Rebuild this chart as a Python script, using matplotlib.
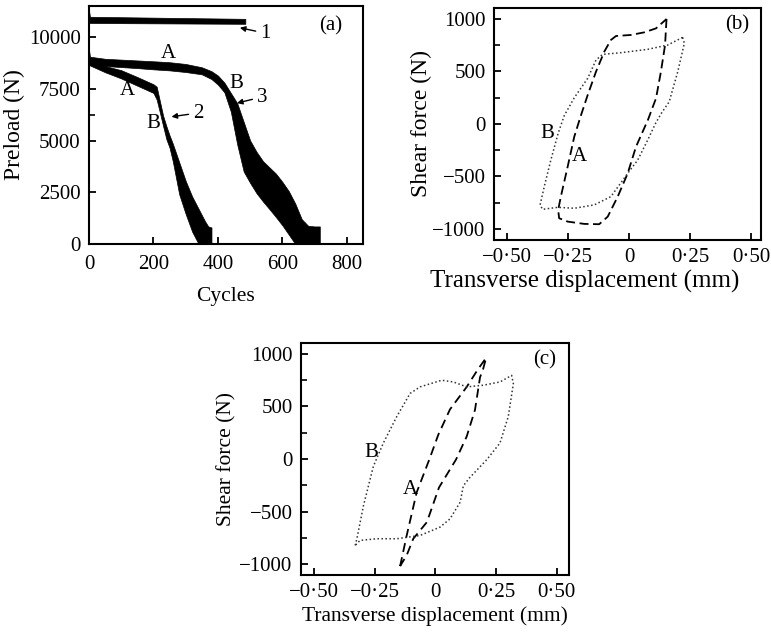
import numpy as np
import matplotlib
matplotlib.use("Agg")
import matplotlib.pyplot as plt

plt.rcParams['font.family'] = ['Liberation Serif', 'DejaVu Serif']

# ---- panel (a): preload decay bands (upper / lower envelope of each band)
c1_x = [0, 3, 240, 485]
c1_hi = [11300, 10980, 10930, 10880]
c1_lo = [10680, 10680, 10660, 10640]

c2_x = [0, 50, 100, 150, 200, 210, 220, 230, 240, 250, 260, 280, 300, 320, 340, 360, 370, 380]
c2_hi = [8800, 8600, 8400, 8070, 7720, 7600, 6900, 6200, 5700, 5250, 4850, 3950, 3050, 2300, 1700, 1100, 850, 800]
c2_lo = [8650, 8300, 8000, 7650, 7300, 6980, 6350, 5700, 5070, 4650, 4000, 2400, 1450, 600, 0, 0, 0, 0]

c3_x = [0, 3, 50, 100, 150, 200, 250, 300, 350, 380, 400, 420, 440, 460, 480, 500, 520,
        540, 560, 580, 600, 620, 640, 660, 680, 700, 716]
c3_hi = [9400, 9050, 8950, 8910, 8870, 8830, 8785, 8700, 8540, 8350, 8140, 7800, 7300, 6800, 5900,
         5000, 4450, 4000, 3700, 3400, 3000, 2550, 1950, 1200, 880, 850, 850]
c3_lo = [8650, 8650, 8600, 8550, 8500, 8440, 8390, 8310, 8200, 7970, 7700, 7330, 6400, 4800, 3500,
         2950, 2450, 2050, 1680, 1300, 900, 450, 0, 0, 0, 0, 0]

# ---- panel (b): hysteresis loops
b_A_x = [0.154, 0.148, 0.131, 0.111, 0.078, 0.029, -0.005, -0.046, -0.087, -0.122, -0.183, -0.251,
         -0.286, -0.290, -0.279, -0.251, -0.224, -0.197, -0.169, -0.135, -0.101, -0.074, -0.053,
         0.008, 0.063, 0.111, 0.154]
b_A_y = [1000, 752, 498, 245, 40, -216, -470, -692, -883, -955, -952, -930, -898, -819, -692, -406,
         -121, 80, 276, 498, 689, 800, 838, 848, 873, 911, 1000]

b_B_x = [0.220, 0.227, 0.200, 0.165, 0.135, 0.110, 0.077, 0.036, -0.005, -0.074, -0.142, -0.224,
         -0.292, -0.354, -0.364, -0.347, -0.320, -0.290, -0.265, -0.224, -0.169, -0.135, -0.108,
         -0.033, 0.077, 0.159, 0.220]
b_B_y = [825, 768, 498, 212, 110, 10, -152, -343, -470, -692, -771, -803, -794, -813, -771, -597,
         -343, -89, 80, 250, 435, 609, 663, 679, 711, 752, 825]

# ---- panel (c): hysteresis loops
c_A_x = [-0.145, -0.118, -0.077, -0.025, 0.012, 0.060, 0.129, 0.175, 0.209, 0.195, 0.184, 0.163,
         0.129, 0.085, 0.015, -0.035, -0.091, -0.118, -0.145]
c_A_y = [-1015, -725, -317, -5, 230, 470, 684, 850, 960, 840, 777, 465, 214, -5, -270, -599, -756,
         -913, -1015]

c_B_x = [-0.330, -0.323, -0.296, -0.255, -0.214, -0.159, -0.104, -0.063, 0.026, 0.074, 0.129, 0.198,
         0.266, 0.314, 0.321, 0.300, 0.266, 0.212, 0.140, 0.115, 0.102, 0.060, 0.019, -0.063,
         -0.159, -0.241, -0.310, -0.330]
c_B_y = [-819, -756, -443, -68, 152, 402, 622, 684, 747, 731, 684, 700, 731, 793, 715, 402, 152, -5,
         -180, -255, -410, -568, -646, -725, -756, -756, -772, -819]

disp_ticks = [-0.5, -0.25, 0, 0.25, 0.5]
disp_labels = ['\u22120\u00b750', '\u22120\u00b725', '0', '0\u00b725', '0\u00b750']
force_ticks = [-1000, -500, 0, 500, 1000]
force_labels = ['\u22121000', '\u2212500', '0', '500', '1000']


def style_axes(ax):
    for s in ax.spines.values():
        s.set_linewidth(1.5)
    ax.tick_params(direction='in', top=False, right=False, length=5, width=1.3,
                   pad=6, labelsize=15)
    ax.tick_params(which='minor', direction='in', length=4, width=1.2)


fig = plt.figure(figsize=(7.71, 6.33), dpi=100)

# (a)
ax = fig.add_axes([0.1154, 0.6145, 0.3554, 0.376])
ax.fill_between(c1_x, c1_lo, c1_hi, color='k', lw=0.5)
ax.fill_between(c2_x, c2_lo, c2_hi, color='k', lw=0.5)
ax.fill_between(c3_x, c3_lo, c3_hi, color='k', lw=0.5)
ax.set_xlim(0, 850)
ax.set_ylim(0, 11500)
ax.set_xticks([0, 200, 400, 600, 800])
ax.set_yticks([0, 2500, 5000, 7500, 10000])
ax.set_yticks([6250], minor=True)
style_axes(ax)
ax.tick_params(axis='x', pad=8)
ax.set_xlabel('Cycles', fontsize=15.5, labelpad=9)
ax.set_ylabel('Preload (N)', fontsize=17, labelpad=3)
arrow = dict(arrowstyle='-|>', color='k', lw=1.0, mutation_scale=8, shrinkA=1, shrinkB=0)
ax.annotate('1', xy=(468, 10450), xytext=(546, 10190), fontsize=15, ha='center', va='center',
            arrowprops=arrow)
ax.annotate('2', xy=(256, 6150), xytext=(338, 6330), fontsize=15, ha='center', va='center',
            arrowprops=arrow)
ax.annotate('3', xy=(459, 6810), xytext=(536, 7100), fontsize=15, ha='center', va='center',
            arrowprops=arrow)
ax.text(245, 9225, 'A', fontsize=15, ha='center', va='center')
ax.text(456, 7780, 'B', fontsize=15, ha='center', va='center')
ax.text(118, 7440, 'A', fontsize=15, ha='center', va='center')
ax.text(199, 5840, 'B', fontsize=15, ha='center', va='center')
ax.text(750, 10550, '(a)', fontsize=15, ha='center', va='center')

# (b)
ax = fig.add_axes([0.6407, 0.6209, 0.3463, 0.3665])
ax.plot(b_A_x, b_A_y, color='k', lw=1.3, linestyle=(0, (5, 2.5)))
ax.plot(b_B_x, b_B_y, color='#333333', lw=1.1, linestyle=(0, (1, 1.6)))
ax.set_xlim(-0.553, 0.541)
ax.set_ylim(-1105, 1105)
ax.set_xticks(disp_ticks)
ax.set_xticklabels(disp_labels)
ax.set_yticks(force_ticks)
ax.set_yticklabels(force_labels)
ax.set_yticks([-750, -250, 250, 750], minor=True)
style_axes(ax)
ax.set_xlabel('Transverse displacement (mm)', fontsize=18, labelpad=2)
ax.xaxis.label.set_x(0.34)
ax.set_ylabel('Shear force (N)', fontsize=17, labelpad=0)
ax.text(-0.333, -89, 'B', fontsize=15, ha='center', va='center')
ax.text(-0.204, -311, 'A', fontsize=15, ha='center', va='center')
ax.text(0.445, 943, '(b)', fontsize=15, ha='center', va='center')

# (c)
ax = fig.add_axes([0.3904, 0.0916, 0.3476, 0.3665])
ax.plot(c_A_x, c_A_y, color='k', lw=1.3, linestyle=(0, (5, 3)))
ax.plot(c_B_x, c_B_y, color='#333333', lw=1.1, linestyle=(0, (1, 1.6)))
ax.set_xlim(-0.553, 0.55)
ax.set_ylim(-1100, 1100)
ax.set_xticks(disp_ticks)
ax.set_xticklabels(disp_labels)
ax.set_yticks(force_ticks)
ax.set_yticklabels(force_labels)
ax.set_yticks([-750, -250, 250, 750], minor=True)
style_axes(ax)
ax.set_xlabel('Transverse displacement (mm)', fontsize=15.5, labelpad=3)
ax.set_ylabel('Shear force (N)', fontsize=15.5, labelpad=2)
ax.text(-0.262, 58, 'B', fontsize=15, ha='center', va='center')
ax.text(-0.104, -286, 'A', fontsize=15, ha='center', va='center')
ax.text(0.451, 940, '(c)', fontsize=15, ha='center', va='center')

fig.savefig('out.png', dpi=100)
